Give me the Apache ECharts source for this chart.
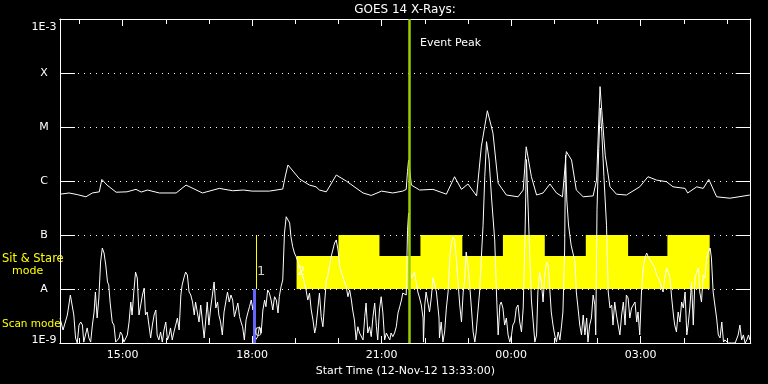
<!DOCTYPE html>
<html><head><meta charset="utf-8">
<script src="https://cdn.jsdelivr.net/npm/echarts@6/dist/echarts.min.js"></script>
<style>html,body{margin:0;padding:0;background:#000;}#c{width:768px;height:384px;}</style>
</head><body><div id="c"></div>
<script>
// Time in hours from 12-Nov-12 00:00 (24+ = next day); flux in W/m^2
const timeRange = [13.55, 29.55];
const xMajorTicks = [15, 18, 21, 24, 27];
const xTickLabels = ['15:00', '18:00', '21:00', '00:00', '03:00'];
const xMinorTicks = [14, 16, 17, 19, 20, 22, 23, 25, 26, 28, 29];
const yRange = [1e-9, 1e-3];
const yTickLabels = ['1E-9', 'A', 'B', 'C', 'M', 'X', '1E-3'];

const longChannel = [[13.55,5.7e-7],[13.76,6.0e-7],[13.95,5.6e-7],[14.15,5.1e-7],[14.30,6.0e-7],[14.46,6.3e-7],[14.52,1.07e-6],[14.64,8.4e-7],[14.85,6.2e-7],[15.10,6.3e-7],[15.31,7.0e-7],[15.43,6.25e-7],[15.58,6.8e-7],[15.85,6.0e-7],[16.24,6.0e-7],[16.47,8.4e-7],[16.85,6.0e-7],[17.24,7.3e-7],[17.55,6.6e-7],[17.80,6.8e-7],[18.0,6.5e-7],[18.40,6.5e-7],[18.71,7.1e-7],[18.77,1.24e-6],[18.83,1.98e-6],[19.10,1.09e-6],[19.33,8.4e-7],[19.48,7.8e-7],[19.56,6.8e-7],[19.72,6.3e-7],[19.95,1.29e-6],[20.18,1.0e-6],[20.57,6.0e-7],[20.76,5.4e-7],[21.0,6.5e-7],[21.26,6.0e-7],[21.49,6.5e-7],[21.57,7e-7],[21.60,1.5e-6],[21.625,2.45e-6],[21.69,8.4e-7],[21.88,6.8e-7],[22.19,7.0e-7],[22.5,5.7e-7],[22.69,1.2e-6],[22.85,7.0e-7],[23.0,8.8e-7],[23.2,5.3e-7],[23.31,4.3e-6],[23.45,2.0e-5],[23.58,7.7e-6],[23.70,9.1e-7],[23.89,5.5e-7],[24.16,5.1e-7],[24.28,6.8e-7],[24.35,4.3e-6],[24.47,1.2e-6],[24.59,5.5e-7],[24.74,6.0e-7],[24.9,8.8e-7],[25.05,6.0e-7],[25.19,5.1e-7],[25.28,3.5e-6],[25.40,2.45e-6],[25.51,6.8e-7],[25.67,5.1e-7],[25.90,5.3e-7],[25.98,1.04e-6],[26.06,5.6e-5],[26.10,2.0e-5],[26.18,3.0e-6],[26.29,7.8e-7],[26.44,5.7e-7],[26.67,5.5e-7],[26.98,7.8e-7],[27.17,1.2e-6],[27.37,1.04e-6],[27.60,9.7e-7],[27.75,7.8e-7],[28.03,7.3e-7],[28.09,6.0e-7],[28.30,7.8e-7],[28.45,7.3e-7],[28.58,1.07e-6],[28.76,5.1e-7],[29.07,4.8e-7],[29.53,5.5e-7]];

const shortChannel = [[13.55,2.9e-9],[13.62,1.74e-9],[13.72,3.3e-9],[13.79,7.74e-9],[13.83,5.05e-9],[13.87,3.3e-9],[13.91,1.24e-9],[13.95,1.0e-9],[13.99,2.15e-9],[14.03,2.45e-9],[14.07,2.15e-9],[14.10,1.04e-9],[14.18,1.9e-9],[14.22,1.24e-9],[14.26,1.04e-9],[14.30,2.15e-9],[14.34,3.75e-9],[14.37,8.8e-9],[14.41,2.9e-9],[14.45,6.8e-9],[14.49,3.16e-8],[14.53,5.74e-8],[14.57,4.64e-8],[14.61,2.78e-8],[14.65,1.35e-8],[14.68,1.19e-8],[14.71,5.74e-9],[14.76,2.45e-9],[14.80,2.15e-9],[14.84,1.04e-9],[14.88,1.04e-9],[14.92,1.24e-9],[14.95,1.6e-9],[14.99,1.41e-9],[15.03,1.04e-9],[15.07,1.04e-9],[15.11,1.41e-9],[15.15,2.45e-9],[15.19,5.74e-9],[15.22,3.3e-9],[15.26,8.8e-9],[15.30,2.06e-8],[15.34,1.6e-8],[15.38,3.3e-9],[15.42,5.05e-9],[15.46,7.74e-9],[15.50,1.04e-8],[15.53,3.3e-9],[15.57,3.75e-9],[15.61,2.15e-9],[15.65,1.24e-9],[15.69,2.15e-9],[15.73,3.3e-9],[15.77,4.08e-9],[15.80,1.41e-9],[15.84,1.14e-9],[15.88,1.6e-9],[15.92,1.04e-9],[15.96,1.74e-9],[16.00,2.45e-9],[16.04,1.14e-9],[16.08,1.41e-9],[16.11,1.9e-9],[16.15,1.14e-9],[16.19,1.6e-9],[16.23,2.15e-9],[16.27,2.9e-9],[16.31,1.74e-9],[16.35,7.74e-9],[16.38,1.19e-8],[16.42,1.6e-8],[16.46,2.06e-8],[16.50,1.82e-8],[16.54,8.8e-9],[16.58,7.74e-9],[16.62,5.74e-9],[16.66,3.3e-9],[16.69,5.74e-9],[16.73,3.75e-9],[16.77,2.45e-9],[16.81,5.05e-9],[16.85,2.45e-9],[16.89,1.24e-9],[16.93,2.9e-9],[16.96,5.74e-9],[17.00,2.15e-9],[17.04,4.45e-9],[17.08,7.74e-9],[17.12,1.35e-8],[17.16,4.45e-9],[17.20,5.74e-9],[17.23,3.3e-9],[17.27,2.45e-9],[17.31,1.41e-9],[17.35,3.75e-9],[17.39,5.74e-9],[17.43,8.8e-9],[17.47,5.74e-9],[17.51,7.74e-9],
[17.55,6.25e-9],[17.59,3.07e-9],[17.63,4.08e-9],[17.67,5.5e-9],[17.71,3.07e-9],[17.75,2.35e-9],[17.78,2.0e-9],[17.82,1.14e-9],[17.86,2.67e-9],[17.90,3.6e-9],[17.94,4.7e-9],[17.98,6.25e-9],[18.02,4.08e-9],[18.05,8.4e-9],[18.08,1.14e-9],[18.13,1.31e-9],[18.17,2.0e-9],[18.21,1.53e-9],[18.25,4.08e-9],[18.29,6.25e-9],[18.32,4.7e-9],[18.36,9.6e-9],[18.40,8.4e-9],[18.44,6.25e-9],[18.48,4.08e-9],[18.52,7.2e-9],[18.56,6.25e-9],[18.60,3.6e-9],[18.63,7.2e-9],[18.67,1.1e-8],[18.71,1.47e-8],[18.75,1.09e-7],[18.79,2.18e-7],[18.83,2.35e-7],[18.87,1.67e-7],[18.90,9.3e-8],[18.94,6.07e-8],[18.98,4.64e-8],[19.02,3.96e-8],[19.10,2.59e-8],[19.18,1.69e-8],[19.25,9.6e-9],[19.29,6.25e-9],[19.33,8.4e-9],[19.37,4.08e-9],[19.41,2.67e-9],[19.45,1.53e-9],[19.48,2.0e-9],[19.52,4.08e-9],[19.56,8.4e-9],[19.60,3.07e-9],[19.64,2.0e-9],[19.68,5.5e-9],[19.72,1.47e-8],[19.75,1.69e-8],[19.79,2.59e-8],[19.83,3.96e-8],[19.87,5.27e-8],[19.91,7.1e-8],[19.95,8.1e-8],[19.99,5.27e-8],[20.03,2.59e-8],[20.10,1.69e-8],[20.18,1.1e-8],[20.22,7.2e-9],[20.26,9.6e-9],[20.30,6.25e-9],[20.33,4.08e-9],[20.37,2.67e-9],[20.41,1.14e-9],[20.45,2.0e-9],[20.49,1.53e-9],[20.57,1.14e-9],[20.61,3.07e-9],[20.64,5.5e-9],[20.68,1.53e-9],[20.72,2.0e-9],[20.76,1.31e-9],[20.80,3.07e-9],[20.84,5.5e-9],[20.88,2.0e-9],[20.91,1.14e-9],[20.95,4.08e-9],[20.99,7.2e-9],[21.03,3.6e-9],[21.07,1.14e-9],[21.11,1.53e-9],[21.15,1.31e-9],[21.19,1.14e-9],[21.22,1.53e-9],[21.26,1.31e-9],[21.30,1.53e-9],[21.34,2.0e-9],[21.38,3.6e-9],[21.42,4.7e-9],[21.46,6.25e-9],[21.49,8.4e-9],
[21.53,7.74e-9],[21.57,7.74e-9],[21.60,1.2e-7],[21.625,2.55e-7],[21.65,2.45e-8],[21.69,1.6e-8],[21.73,1.82e-8],[21.76,2.06e-8],[21.80,1.35e-8],[21.84,8.8e-9],[21.88,6.8e-9],[21.92,5.05e-9],[21.96,2.9e-9],[21.97,1.04e-9],[22.00,5.05e-9],[22.03,8.8e-9],[22.07,5.74e-9],[22.11,3.75e-9],[22.15,6.8e-9],[22.19,1.6e-8],[22.23,1.6e-8],[22.27,8.8e-9],[22.31,8.8e-9],[22.33,2.9e-9],[22.34,1.24e-9],[22.38,2.45e-9],[22.42,1.04e-9],[22.46,1.6e-9],[22.50,4.45e-9],[22.54,8.8e-9],[22.58,3.75e-8],[22.61,6.53e-8],[22.65,9.2e-8],[22.69,8.1e-8],[22.73,3.75e-8],[22.77,1.35e-8],[22.81,5.05e-9],[22.85,2.45e-9],[22.89,8.8e-9],[22.92,1.35e-8],[22.96,4.84e-8],[23.00,2.78e-8],[23.04,1.19e-8],[23.08,4.45e-9],[23.12,1.6e-9],[23.16,1.04e-9],[23.19,1.6e-9],[23.23,3.75e-9],[23.27,8.8e-9],[23.31,3.75e-8],[23.35,1.5e-7],[23.39,1.2e-6],[23.43,5.35e-6],[23.49,2.45e-6],[23.55,4.45e-7],[23.62,8.1e-8],[23.66,8.8e-9],[23.70,1.41e-9],[23.74,5.05e-9],[23.77,5.74e-9],[23.81,4.45e-9],[23.85,2.15e-9],[23.89,2.9e-9],[23.93,1.41e-9],[23.97,1.04e-9],[24.01,1.41e-9],[24.04,2.15e-9],[24.08,2.45e-9],[24.12,4.45e-9],[24.16,5.05e-9],[24.20,2.45e-9],[24.24,1.6e-9],[24.28,4.45e-9],[24.32,8.1e-8],[24.355,2.5e-6],[24.42,8.1e-8],[24.47,6.25e-9],[24.55,1.04e-9],[24.59,1.41e-9],[24.62,8.8e-9],[24.66,2.06e-8],[24.70,1.35e-8],[24.74,5.74e-9],[24.78,1.82e-8],[24.82,3.16e-8],[24.86,2.78e-8],[24.90,8.8e-9],[24.93,3.75e-9],[24.97,2.15e-9],[25.01,1.41e-9],[25.05,1.04e-9],[25.09,1.6e-9],[25.13,1.14e-9],[25.17,2.15e-9],[25.20,3.75e-9],[25.24,5.27e-8],[25.26,3.0e-6],[25.29,4.45e-7],[25.33,1.53e-7],[25.39,6.5e-8],
[25.48,3.16e-8],[25.51,8.8e-9],[25.55,4.45e-9],[25.59,2.15e-9],[25.63,1.41e-9],[25.67,3.3e-9],[25.71,1.41e-9],[25.75,2.9e-9],[25.78,1.04e-9],[25.82,2.15e-9],[25.86,2.9e-9],[25.90,7.74e-9],[25.94,5.05e-9],[25.96,1.41e-9],[25.99,3.0e-7],[26.03,4.0e-6],[26.064,2.25e-5],[26.10,8.0e-6],[26.15,1.2e-6],[26.21,1.5e-7],[26.25,8.8e-9],[26.29,4.45e-9],[26.33,5.05e-9],[26.36,2.15e-9],[26.40,5.74e-9],[26.44,3.3e-9],[26.48,2.15e-9],[26.52,1.41e-9],[26.56,3.3e-9],[26.60,5.74e-9],[26.64,2.15e-9],[26.67,7.74e-9],[26.71,6.8e-9],[26.75,2.9e-9],[26.79,4.45e-9],[26.83,5.05e-9],[26.87,5.74e-9],[26.91,2.45e-9],[26.94,3.75e-9],[26.98,1.41e-9],[27.02,8.8e-9],[27.06,2.45e-8],[27.10,3.75e-8],[27.14,4.64e-8],[27.18,3.9e-8],[27.21,3.75e-8],[27.25,3.16e-8],[27.29,2.78e-8],[27.33,2.45e-8],[27.37,1.82e-8],[27.41,1.6e-8],[27.45,1.35e-8],[27.49,1.04e-8],[27.52,8.8e-9],[27.56,1.6e-8],[27.60,2.45e-8],[27.64,2.06e-8],[27.68,1.6e-8],[27.72,6.8e-9],[27.76,3.3e-9],[27.79,2.15e-9],[27.83,1.6e-9],[27.87,3.75e-9],[27.91,2.45e-9],[27.95,5.74e-9],[27.99,4.45e-9],[28.03,8.8e-9],[28.07,1.41e-9],[28.10,2.15e-9],[28.14,4.45e-9],[28.18,1.35e-8],[28.22,2.15e-9],[28.26,1.6e-8],[28.30,2.06e-8],[28.34,2.45e-8],[28.37,8.8e-9],[28.41,5.74e-9],[28.45,1.82e-8],[28.49,1.6e-8],[28.53,3.75e-8],[28.57,4.84e-8],[28.61,5.74e-8],[28.64,3.75e-8],[28.68,8.8e-9],[28.72,5.05e-9],[28.76,2.9e-9],[28.80,1.41e-9],[28.84,1.24e-9],[28.88,2.45e-9],[28.92,1.04e-9],[28.95,1.14e-9],[29.03,1.0e-9],[29.11,1.0e-9],[29.19,1.0e-9],[29.26,1.41e-9],[29.30,2.15e-9],[29.34,1.14e-9],[29.38,1.41e-9],[29.42,1.0e-9],[29.46,1.14e-9],[29.50,1.41e-9],[29.53,1.14e-9]];

// Sit & Stare observation timeline (hours) and its band levels (flux)
const sitStareBase = [[19.03, 28.60]];
const sitStareBlocks = [[20.00, 20.95], [21.90, 22.87], [23.81, 24.78], [25.73, 26.71], [27.62, 28.60]];
const bandBottom = 1e-8, bandMid = 4.08e-8, bandTop = 1e-7;
const scanBarTime = 18.05;
const sitMarkerTime = 18.107;
const eventPeakTime = 21.625;
const modeNumbers = [[18.209, 2.09e-8, '1'], [18.147, 1.53e-9, '0'], [19.137, 2.06e-8, '2']];

const FONT = 'DejaVu Sans';
const WHITE = '#ffffff';
const YELLOW = '#ffff00';

function xAxisDef(pos, ticks, len, withLabels) {
  return {
    type: 'value', min: timeRange[0], max: timeRange[1], position: pos,
    axisLine: { show: true, lineStyle: { color: WHITE, width: 1 } },
    axisTick: { show: true, inside: true, length: len, customValues: ticks, lineStyle: { color: WHITE, width: 1 } },
    axisLabel: withLabels ? {
      show: true, customValues: xMajorTicks, color: WHITE, fontSize: 11, fontFamily: FONT, margin: 7,
      formatter: v => xTickLabels[xMajorTicks.indexOf(Math.round(v))]
    } : { show: false },
    splitLine: { show: false },
    name: withLabels ? 'Start Time (12-Nov-12 13:33:00)' : '',
    nameLocation: 'middle', nameGap: 19,
    nameTextStyle: { color: WHITE, fontSize: 11, fontFamily: FONT }
  };
}
function yAxisDef(pos, labels) {
  return {
    type: 'log', logBase: 10, min: yRange[0], max: yRange[1], splitNumber: 6, position: pos,
    axisLine: { show: true, lineStyle: { color: WHITE, width: 1 } },
    axisTick: { show: true, inside: true, length: 15, lineStyle: { color: WHITE, width: 1 } },
    minorTick: { show: false },
    axisLabel: labels ? {
      show: true, color: WHITE, fontSize: 11, fontFamily: FONT, align: 'center', margin: 16,
      formatter: v => {
        const i = Math.round(Math.log10(v)) + 9;
        if (i === yTickLabels.length - 1) return '{top|' + yTickLabels[i] + '}';
        if (i === 0) return '{bot|' + yTickLabels[i] + '}';
        return yTickLabels[i];
      },
      rich: {
        top: { color: WHITE, fontSize: 11, fontFamily: FONT, padding: [16, 0, 0, 0] },
        bot: { color: WHITE, fontSize: 11, fontFamily: FONT, padding: [0, 0, 6, 0] }
      }
    } : { show: false },
    splitLine: labels ? { show: true, lineStyle: { color: WHITE, width: 1, type: [1, 5] } } : { show: false }
  };
}

const yellowAreas = sitStareBase.map(b => [{ xAxis: b[0], yAxis: bandBottom }, { xAxis: b[1], yAxis: bandMid }])
  .concat(sitStareBlocks.map(b => [{ xAxis: b[0], yAxis: bandMid }, { xAxis: b[1], yAxis: bandTop }]));

const chart = echarts.init(document.getElementById('c'), null, { renderer: 'canvas' });
chart.setOption({
  backgroundColor: '#000',
  animation: false,
  grid: { left: 60, top: 19, width: 690.7, height: 324, containLabel: false },
  xAxis: [
    xAxisDef('bottom', xMajorTicks, 7, true),
    xAxisDef('bottom', xMinorTicks, 5, false),
    xAxisDef('top', xMajorTicks, 7, false),
    xAxisDef('top', xMinorTicks, 5, false)
  ],
  yAxis: [yAxisDef('left', true), yAxisDef('right', false)],
  series: [
    {
      type: 'line', data: [], z: 1, silent: true,
      markArea: { silent: true, itemStyle: { color: YELLOW, opacity: 1 }, data: yellowAreas }
    },
    {
      name: 'short', type: 'line', data: shortChannel, z: 3, showSymbol: false, symbol: 'none',
      lineStyle: { color: WHITE, width: 1 }
    },
    {
      name: 'long', type: 'line', data: longChannel, z: 3, showSymbol: false, symbol: 'none',
      lineStyle: { color: WHITE, width: 1 }
    },
    {
      type: 'line', data: [], z: 4, silent: true,
      markLine: { silent: true, symbol: 'none', label: { show: false },
        data: [
          [{ coord: [scanBarTime, yRange[0]], lineStyle: { color: '#6464ff', width: 3, type: 'solid' } },
           { coord: [scanBarTime, bandBottom] }],
          [{ coord: [sitMarkerTime, bandBottom], lineStyle: { color: YELLOW, width: 1, type: 'solid' } },
           { coord: [sitMarkerTime, bandTop] }]
        ] }
    },
    {
      type: 'scatter', data: modeNumbers, z: 5, symbolSize: 0, silent: true,
      label: { show: true, position: 'inside', formatter: p => p.data[2], color: WHITE, fontSize: 13, fontFamily: FONT }
    },
    {
      type: 'line', data: [], z: 6, silent: true,
      markLine: { silent: true, symbol: 'none', label: { show: false },
        lineStyle: { color: '#9ccc00', width: 2.5, type: 'solid' },
        data: [{ xAxis: eventPeakTime }] }
    }
  ],
  graphic: [
    { type: 'text', x: 405, y: 10, style: { text: 'GOES 14 X-Rays:', fill: WHITE, font: '12px ' + FONT, align: 'center', verticalAlign: 'middle' } },
    { type: 'text', x: 420, y: 43, style: { text: 'Event Peak', fill: WHITE, font: '11px ' + FONT, align: 'left', verticalAlign: 'middle' } },
    { type: 'text', x: 2, y: 259, style: { text: 'Sit & Stare', fill: YELLOW, font: '11.5px ' + FONT, align: 'left', verticalAlign: 'middle' } },
    { type: 'text', x: 12, y: 271, style: { text: 'mode', fill: YELLOW, font: '11px ' + FONT, align: 'left', verticalAlign: 'middle' } },
    { type: 'text', x: 2, y: 324, style: { text: 'Scan mode', fill: YELLOW, font: '10.5px ' + FONT, align: 'left', verticalAlign: 'middle' } }
  ]
});
</script>
</body></html>
